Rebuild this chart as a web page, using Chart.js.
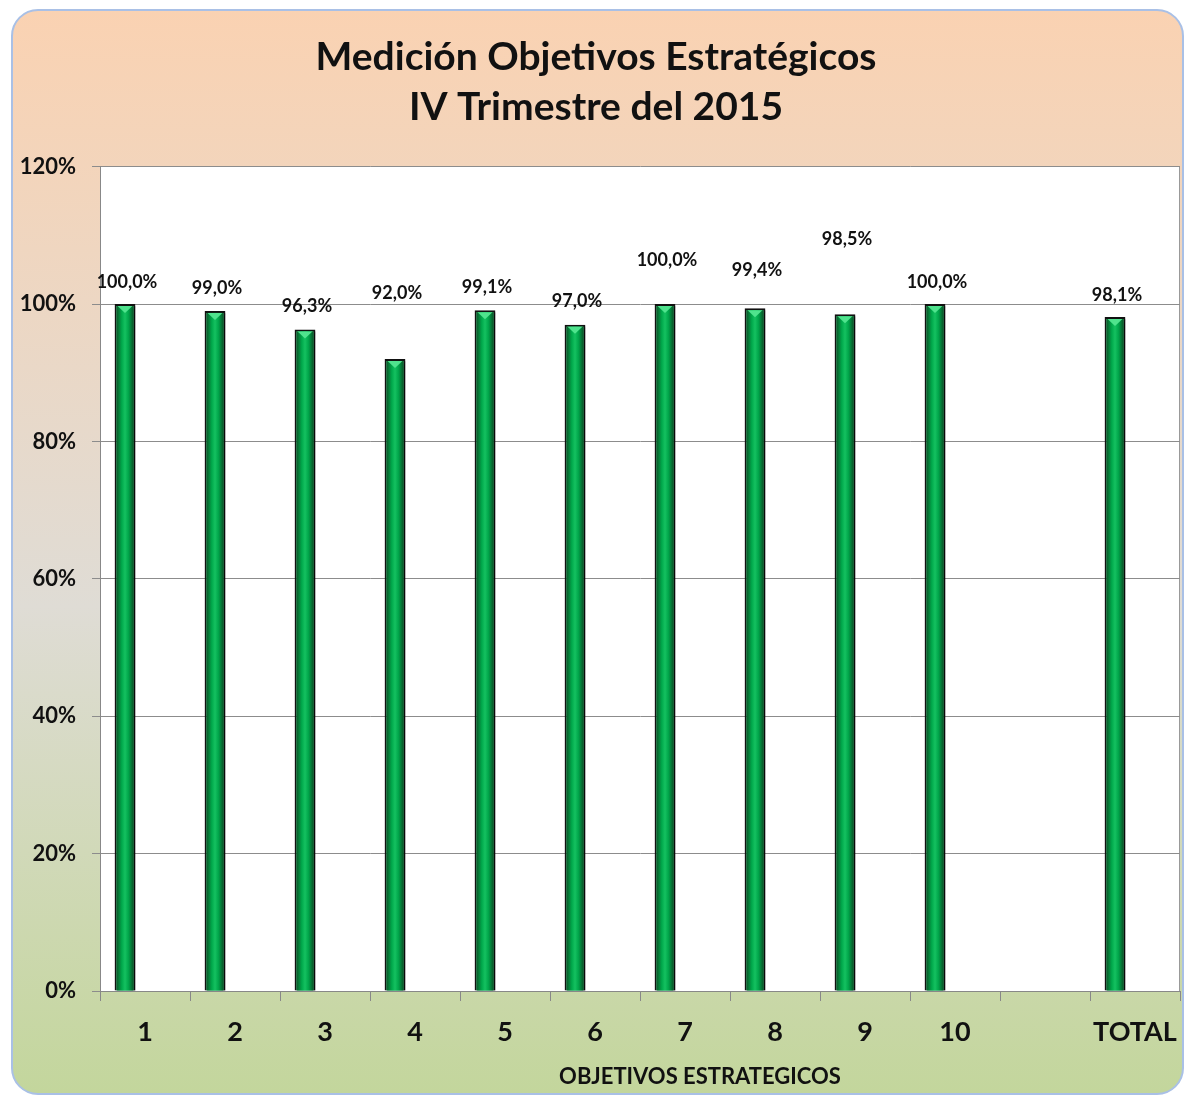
<!DOCTYPE html>
<html>
<head>
<meta charset="utf-8">
<script src="https://cdn.jsdelivr.net/npm/chart.js@4.4.1/dist/chart.umd.min.js"></script>
<style>
  html, body { margin: 0; padding: 0; background: #fff; }
  #wrap { width: 1184px; height: 1096px; }
</style>
</head>
<body>
<div id="wrap"><canvas id="medicion"></canvas></div>
<script>
const objetivos = ['1', '2', '3', '4', '5', '6', '7', '8', '9', '10', '', 'TOTAL'];
const cumplimiento = [100.0, 99.0, 96.3, 92.0, 99.1, 97.0, 100.0, 99.4, 98.5, 100.0, null, 98.1];
const serieVacia = [null, null, null, null, null, null, null, null, null, null, null, null];
const yTicks = [0, 20, 40, 60, 80, 100, 120];

// how far above each bar the value label sits (px)
const labelLift = [22, 23, 23, 66, 23, 23, 44, 38, 75, 22, 0, 22];

const fondo = {
  id: 'fondo',
  beforeDraw(chart) {
    const c = chart.ctx;
    const g = c.createLinearGradient(0, 10, 0, 1094);
    g.addColorStop(0, '#fad2b2');
    g.addColorStop(0.55, '#dfdcd5');
    g.addColorStop(1, '#c3d69c');
    c.save();
    c.beginPath();
    c.roundRect(12, 10, 1171, 1084, 26);
    c.fillStyle = g;
    c.fill();
    c.lineWidth = 2;
    c.strokeStyle = '#a9c0e6';
    c.stroke();
    const a = chart.chartArea;
    c.fillStyle = '#fff';
    c.fillRect(a.left, a.top, a.right - a.left, a.bottom - a.top);
    c.beginPath();
    c.moveTo(a.right - 0.5, a.top);
    c.lineTo(a.right - 0.5, a.bottom);
    c.lineWidth = 1;
    c.strokeStyle = '#999';
    c.stroke();
    c.restore();
  },
  beforeDatasetDraw(chart) {
    const c = chart.ctx;
    c.save();
    c.shadowColor = 'rgba(0,0,0,0.45)';
    c.shadowOffsetX = 3;
    c.shadowOffsetY = 2;
    c.shadowBlur = 2;
  },
  afterDatasetDraw(chart, args) {
    const c = chart.ctx;
    c.restore();
    if (args.index !== 0) return;
    args.meta.data.forEach((bar, i) => {
      if (cumplimiento[i] == null) return;
      const l = bar.x - bar.width / 2 + 2, r = bar.x + bar.width / 2 - 2;
      const t = bar.y + 2, b = bar.base;
      const g = c.createLinearGradient(l, 0, r, 0);
      g.addColorStop(0, '#0b5a2a');
      g.addColorStop(0.3, '#00a74a');
      g.addColorStop(0.5, '#14c160');
      g.addColorStop(0.72, '#00a349');
      g.addColorStop(1, '#0a5428');
      c.save();
      c.fillStyle = g;
      c.fillRect(l, t, r - l, b - t);
      c.beginPath();
      c.moveTo(l + 1, t);
      c.lineTo(r - 1, t);
      c.lineTo(bar.x, t + 7);
      c.closePath();
      c.fillStyle = '#4fe38d';
      c.fill();
      c.restore();
    });
  },
  afterDraw(chart) {
    const c = chart.ctx;
    const meta = chart.getDatasetMeta(0);
    c.save();
    c.fillStyle = '#111';
    c.textAlign = 'center';
    c.textBaseline = 'middle';
    c.font = 'bold 18px Lato';
    meta.data.forEach((bar, i) => {
      const v = cumplimiento[i];
      if (v == null) return;
      c.fillText(v.toFixed(1).replace('.', ',') + '%', bar.x + 2, bar.y - labelLift[i]);
    });
    c.font = 'bold 22px Lato';
    c.fillText('OBJETIVOS ESTRATEGICOS', 700, 1077);
    c.restore();
  }
};

new Chart(document.getElementById('medicion'), {
  type: 'bar',
  data: {
    labels: objetivos,
    datasets: [
      {
        label: 'Cumplimiento',
        data: cumplimiento,
        backgroundColor: '#00a74a',
        borderColor: '#111',
        borderWidth: 2,
        borderSkipped: 'bottom',
        barPercentage: 0.52,
        categoryPercentage: 0.889
      },
      {
        label: '',
        data: serieVacia,
        backgroundColor: 'transparent',
        barPercentage: 0.52,
        categoryPercentage: 0.889
      }
    ]
  },
  options: {
    responsive: true,
    maintainAspectRatio: false,
    animation: false,
    layout: { padding: { top: 10, left: 12, right: 4, bottom: 0 } },
    plugins: {
      legend: { display: false },
      tooltip: { enabled: false },
      title: {
        display: true,
        text: ['Medición Objetivos Estratégicos', 'IV Trimestre del 2015'],
        color: '#111',
        font: { family: 'Lato', size: 39, weight: 'bold', lineHeight: 1.29 },
        padding: { top: 22, bottom: 34 }
      }
    },
    scales: {
      x: {
        offset: true,
        grid: { offset: true, drawOnChartArea: false, drawTicks: true, tickLength: 10, color: '#888' },
        border: { display: true, color: '#888', width: 1 },
        ticks: { color: '#111', font: { family: 'Lato', size: 27, weight: 'bold' }, padding: 15 },
        afterFit(scale) {
          scale.height = 105;
          scale.paddingRight = 0;
          scale.paddingLeft = 0;
        }
      },
      y: {
        min: 0,
        max: 120,
        afterBuildTicks(scale) { scale.ticks = yTicks.map(v => ({ value: v })); },
        grid: { color: '#8c8c8c', tickLength: 8 },
        border: { display: true, color: '#888', width: 1 },
        ticks: {
          color: '#111',
          font: { family: 'Lato', size: 22, weight: 'bold' },
          padding: 16,
          callback: v => v + '%'
        },
        afterFit(scale) { scale.width = 88; }
      }
    }
  },
  plugins: [fondo]
});
</script>
</body>
</html>
